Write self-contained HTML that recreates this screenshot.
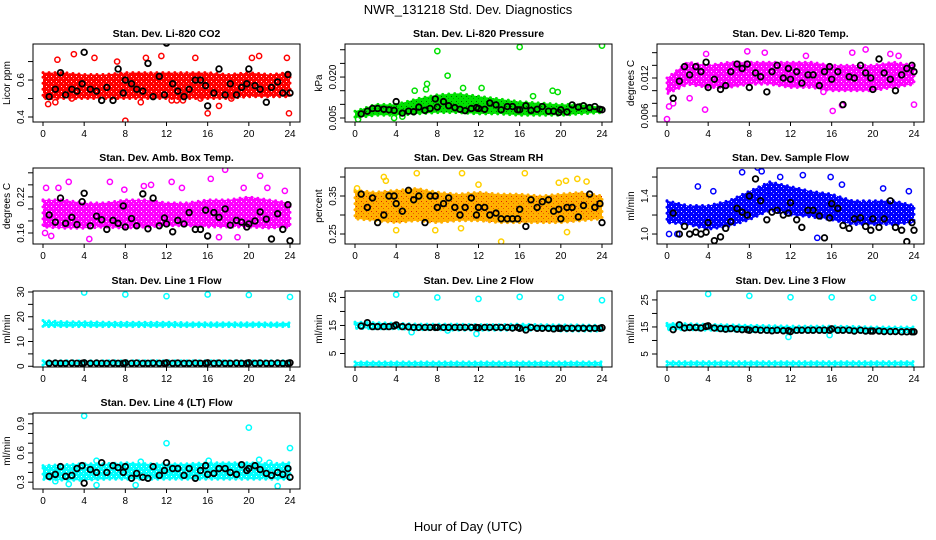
<!DOCTYPE html>
<html><head><meta charset="utf-8"><style>
html,body{margin:0;padding:0;background:#fff;}
svg{display:block;font-family:"Liberation Sans",Arial,sans-serif;}
</style></head><body>
<svg id="chart" width="936" height="540" viewBox="0 0 936 540" xmlns="http://www.w3.org/2000/svg">
<defs id="defs"></defs>
<rect x="0" y="0" width="936" height="540" fill="#fff"/>
<text x="468" y="14" text-anchor="middle" font-size="13">NWR_131218  Std. Dev. Diagnostics</text>
<text x="468" y="531" text-anchor="middle" font-size="13">Hour of Day (UTC)</text>
</svg>
<script>
// ---- data ----
const xTicks = [0,4,8,12,16,20,24];
const bandHours = [0,2,4,6,8,10,12,14,16,18,20,22,24];
const blackHours = [0.6,1.2,1.7,2.2,2.8,3.3,3.8,4,4.6,5.2,5.7,6.2,6.8,7.3,7.8,8,8.6,9.1,9.7,10.2,10.7,11.3,11.8,12,12.6,13.1,13.7,14.2,14.8,15.3,15.8,16,16.6,17.1,17.7,18.2,18.8,19.3,19.8,20,20.6,21.1,21.7,22.2,22.8,23.3,23.8,24];

const co2Lo = [0.50,0.50,0.50,0.50,0.50,0.50,0.50,0.50,0.50,0.50,0.51,0.51,0.51];
const co2Hi = [0.64,0.64,0.63,0.63,0.64,0.64,0.64,0.64,0.64,0.63,0.64,0.63,0.64];
const co2OutX = [0.5,1.2,1.4,2.8,5,7.2,8,10,11.5,12.5,13,13.6,14.8,16,17.1,20.3,21,23.7,23.9,18.3,15.3,9.5,3.0];
const co2OutY = [0.47,0.48,0.71,0.50,0.72,0.70,0.38,0.72,0.73,0.49,0.49,0.49,0.72,0.42,0.46,0.72,0.73,0.72,0.42,0.50,0.50,0.48,0.74];
const co2Black = [0.51,0.55,0.64,0.52,0.55,0.54,0.58,0.75,0.55,0.54,0.49,0.56,0.49,0.66,0.53,0.60,0.58,0.55,0.54,0.69,0.51,0.62,0.52,0.80,0.58,0.54,0.51,0.55,0.60,0.60,0.57,0.46,0.53,0.66,0.52,0.58,0.52,0.56,0.58,0.66,0.57,0.55,0.48,0.56,0.59,0.53,0.63,0.53];

const prLo = [0.005,0.006,0.006,0.0065,0.007,0.007,0.0065,0.0065,0.006,0.006,0.006,0.0065,0.007];
const prHi = [0.0075,0.0100,0.0100,0.0120,0.0135,0.0140,0.0130,0.0120,0.0110,0.0105,0.0100,0.0100,0.0090];
const prOutX = [8,16,24,9,7,10.5,19.2,19.7,0.3,3.8,12.3,5.8,6.9,17.3,4.6];
const prOutY = [0.0295,0.031,0.0315,0.0205,0.0175,0.016,0.015,0.0145,0.0045,0.005,0.016,0.015,0.0155,0.013,0.0055];
const prBlack = [0.0065,0.0075,0.0085,0.0085,0.0082,0.0080,0.0078,0.0110,0.0068,0.0075,0.0073,0.0090,0.0078,0.0085,0.0120,0.0090,0.0110,0.0095,0.0088,0.0082,0.0077,0.0085,0.0088,0.0085,0.0082,0.0105,0.0098,0.0080,0.0092,0.0092,0.0080,0.0080,0.0095,0.0078,0.0082,0.0092,0.0075,0.0075,0.0070,0.0080,0.0072,0.0098,0.0090,0.0095,0.0088,0.0092,0.0082,0.0080];

const tpLo = [0.0095,0.0110,0.0105,0.0105,0.0110,0.0110,0.0105,0.0105,0.0100,0.0100,0.0100,0.0105,0.0110];
const tpHi = [0.0120,0.0145,0.0140,0.0145,0.0145,0.0145,0.0145,0.0145,0.0140,0.0140,0.0140,0.0145,0.0140];
const tpOutX = [0,0.2,0.6,3.7,16.1,17,24,18,19.3,7.8,13.5,22.5,2.2,9.5,3.8,15.2,21.7];
const tpOutY = [0.0055,0.0075,0.0080,0.0070,0.0068,0.0077,0.0078,0.0160,0.0165,0.0162,0.0155,0.0155,0.0088,0.0160,0.0158,0.0098,0.0158];
const tpBlack = [0.0088,0.0115,0.0138,0.0125,0.0138,0.0130,0.0145,0.0105,0.0118,0.0102,0.0108,0.0130,0.0142,0.0135,0.0142,0.0105,0.0128,0.0122,0.0098,0.0130,0.0140,0.0120,0.0135,0.0118,0.0130,0.0112,0.0125,0.0125,0.0108,0.0130,0.0138,0.0118,0.0130,0.0078,0.0122,0.0120,0.0140,0.0128,0.0120,0.0102,0.0150,0.0128,0.0118,0.0100,0.0125,0.0135,0.0140,0.0130];

const abLo = [0.170,0.168,0.168,0.170,0.168,0.170,0.172,0.172,0.170,0.170,0.170,0.168,0.170];
const abHi = [0.215,0.215,0.210,0.210,0.215,0.215,0.210,0.210,0.215,0.215,0.220,0.215,0.210];
const abOutX = [0.2,0.8,1.5,2.5,4.5,6.5,10.5,12.5,13.5,16.3,17.7,21.1,21.8,17.1,19.5,23.5,0.3,9.8,18.9,7.9];
const abOutY = [0.160,0.155,0.235,0.245,0.150,0.245,0.240,0.245,0.235,0.250,0.265,0.255,0.235,0.153,0.235,0.230,0.235,0.238,0.153,0.232];
const abBlack = [0.190,0.178,0.218,0.176,0.186,0.174,0.212,0.226,0.172,0.188,0.182,0.166,0.181,0.176,0.205,0.170,0.184,0.172,0.225,0.167,0.218,0.172,0.185,0.175,0.162,0.181,0.175,0.194,0.166,0.166,0.198,0.155,0.194,0.186,0.200,0.173,0.181,0.178,0.170,0.175,0.180,0.195,0.183,0.150,0.192,0.166,0.207,0.147];

const rhLo = [0.290,0.285,0.280,0.285,0.280,0.285,0.285,0.280,0.280,0.280,0.280,0.285,0.290];
const rhHi = [0.365,0.360,0.365,0.370,0.360,0.355,0.360,0.355,0.355,0.350,0.355,0.360,0.350];
const rhOutX = [0.2,2.8,3,6,10.4,16.5,20.5,21.6,14.2,12,10.3,20.6,4,7.8,2.2,19.8,22.5];
const rhOutY = [0.370,0.400,0.390,0.410,0.410,0.410,0.390,0.395,0.230,0.380,0.265,0.255,0.260,0.260,0.280,0.385,0.388];
const rhBlack = [0.355,0.320,0.345,0.280,0.300,0.350,0.350,0.330,0.310,0.365,0.340,0.350,0.280,0.350,0.350,0.320,0.330,0.345,0.320,0.300,0.320,0.345,0.300,0.320,0.320,0.300,0.305,0.290,0.290,0.290,0.290,0.315,0.270,0.340,0.320,0.335,0.340,0.310,0.315,0.290,0.320,0.320,0.295,0.325,0.355,0.320,0.330,0.280];

const sfLo = [1.12,1.10,1.05,1.08,1.15,1.25,1.20,1.18,1.15,1.10,1.10,1.10,1.12];
const sfHi = [1.35,1.30,1.30,1.35,1.45,1.55,1.50,1.45,1.42,1.35,1.35,1.35,1.30];
const sfOutX = [3,4.5,7.3,8.8,9.8,11,15.9,17,14.6,1,0.2,23.5,21,0.5,9.2,13.2];
const sfOutY = [1.50,1.45,1.65,1.70,1.45,1.60,1.60,1.52,0.96,1.00,1.00,1.45,1.48,1.20,1.66,1.62];
const sfBlack = [1.22,1.00,1.08,1.00,1.02,1.00,1.02,1.12,0.93,0.97,1.06,1.13,1.27,1.23,1.20,1.40,1.58,1.35,1.15,1.23,1.25,1.20,1.22,1.33,1.15,1.07,1.25,1.25,1.19,0.96,1.17,1.32,1.27,1.09,1.06,1.16,1.17,1.08,1.04,1.16,1.07,1.16,1.35,1.07,1.04,0.92,1.12,1.04];

const l1Lo = [16,16,16,16,16,16,16,16,16,16,16,16,16];
const l1Hi = [18.5,18,18,17.8,17.8,17.8,17.8,17.6,17.6,17.6,17.6,17.5,17.5];
const l1Lo2 = [0.5,0.6,0.6,0.6,0.6,0.6,0.6,0.6,0.6,0.6,0.6,0.6,0.6];
const l1Hi2 = [2.2,2.2,2.2,2.2,2.2,2.2,2.2,2.2,2.2,2.2,2.2,2.2,2.2];
const l1OutX = [4,8,12,16,20,24];
const l1OutY = [29.8,29,28.3,29,28.8,28];
const l1Black = [1.2,1.3,1.2,1.2,1.3,1.2,1.2,1.4,1.2,1.3,1.2,1.2,1.3,1.2,1.2,1.4,1.2,1.3,1.2,1.2,1.3,1.2,1.2,1.4,1.2,1.3,1.2,1.2,1.3,1.2,1.2,1.4,1.2,1.3,1.2,1.2,1.3,1.2,1.2,1.4,1.2,1.3,1.2,1.2,1.3,1.2,1.2,1.4];

const l2Lo = [14,13.8,13.8,13.5,13.5,13.3,13.3,13.3,13.3,13.3,13,13,13];
const l2Hi = [16.2,16,15.8,15.5,15.5,15.5,15.3,15.3,15.5,15.3,15.2,15.2,15];
const l2Lo2 = [0.6,0.6,0.6,0.6,0.6,0.6,0.6,0.6,0.6,0.6,0.6,0.6,0.6];
const l2Hi2 = [2,2,2,2,2,2,2,2,2,2,2,2,2];
const l2OutX = [4,8,12,16,20,24,11.8,9,5.5];
const l2OutY = [26,25,24.5,25.2,25,24,12,13.2,12.6];
const l2Black = [14.8,16.0,14.6,14.6,14.6,14.6,14.8,15.2,14.6,14.5,14.3,14.3,14.3,14.3,14.3,14.3,14.3,14.3,14.3,14.3,14.3,14.3,14.3,14.2,14.3,14.3,14.3,14.3,14.3,14.1,14.3,14.0,13.4,14.3,14.0,14.0,14.0,13.8,14.0,14.0,14.0,14.0,14.0,14.0,14.0,14.0,14.0,14.2];

const l3Lo = [14,14,13.8,13.5,13.3,13.2,13,13,13,13,12.8,12.8,12.8];
const l3Hi = [16.3,16.2,16,15.8,15.6,15.5,15.3,15.3,15.3,15.2,15,15,15];
const l3Lo2 = [0.8,0.8,0.8,0.8,0.8,0.8,0.8,0.8,0.8,0.8,0.8,0.8,0.8];
const l3Hi2 = [2.2,2.2,2.2,2.2,2.2,2.2,2.2,2.2,2.2,2.2,2.2,2.2,2.2];
const l3OutX = [4,8,12,16,20,24,11.8,15.8];
const l3OutY = [27.2,26.5,26,26,25.8,25.8,11.3,12];
const l3Black = [14.0,15.8,14.6,14.8,14.8,14.6,15.2,15.4,14.6,14.4,14.2,14.4,14.2,14.0,14.0,13.8,14.0,13.8,13.8,13.6,13.8,13.6,13.6,13.3,13.8,13.8,13.8,13.8,13.8,13.8,13.8,14.3,13.8,13.8,13.8,13.5,13.8,13.5,13.5,13.5,13.5,13.3,13.3,13.3,13.2,13.2,13.2,13.2];

const l4Lo = [0.33,0.32,0.32,0.33,0.33,0.33,0.33,0.33,0.33,0.33,0.33,0.33,0.33];
const l4Hi = [0.47,0.48,0.49,0.49,0.50,0.49,0.49,0.49,0.50,0.50,0.50,0.49,0.50];
const l4OutX = [4,20,12,24,5.2,21,22,22.8,5.2,2.5,9,9.5,1.2,16.1];
const l4OutY = [0.98,0.86,0.70,0.65,0.52,0.53,0.50,0.26,0.27,0.28,0.27,0.51,0.31,0.52];
const l4Black = [0.36,0.38,0.46,0.36,0.37,0.44,0.47,0.29,0.43,0.40,0.50,0.40,0.47,0.45,0.40,0.46,0.34,0.39,0.35,0.34,0.46,0.37,0.42,0.50,0.44,0.44,0.37,0.44,0.34,0.42,0.47,0.38,0.39,0.44,0.44,0.40,0.38,0.48,0.42,0.44,0.47,0.43,0.39,0.37,0.40,0.38,0.44,0.35];

// ---- layout / rendering ----
const NS = 'http://www.w3.org/2000/svg';
const svg = document.getElementById('chart');
const defs = document.getElementById('defs');
const rowTop = [44,168,291,413], rowBot = [122,244,367,489];
function mk(tag, attrs, parent){
  const e = document.createElementNS(NS, tag);
  for (const k in attrs) e.setAttribute(k, attrs[k]);
  (parent||svg).appendChild(e);
  return e;
}
const panels = [
 {key:'co2',title:'Stan. Dev. Li-820 CO2',ylab:'Licor ppm',c:0,r:0,ylim:[0.373,0.795],ticks:[0.4,0.5,0.6,0.7],labels:['0.4','0.6'],col:'#ff0000',speck:'#ffffff',bands:[[co2Lo,co2Hi]],ox:co2OutX,oy:co2OutY,black:co2Black},
 {key:'pressure',title:'Stan. Dev. Li-820 Pressure',ylab:'kPa',c:1,r:0,ylim:[0.00354,0.0321],ticks:[0.005,0.010,0.015,0.020,0.025,0.030],labels:['0.005','0.020'],col:'#00e000',speck:'#006000',bands:[[prLo,prHi]],ox:prOutX,oy:prOutY,black:prBlack},
 {key:'temp',title:'Stan. Dev. Li-820 Temp.',ylab:'degrees C',c:2,r:0,ylim:[0.00505,0.01737],ticks:[0.006,0.008,0.010,0.012,0.014,0.016],labels:['0.006','0.012'],col:'#ff00ff',speck:'#ffffff',bands:[[tpLo,tpHi]],ox:tpOutX,oy:tpOutY,black:tpBlack},
 {key:'amb',title:'Stan. Dev. Amb. Box Temp.',ylab:'degrees C',c:0,r:1,ylim:[0.1417,0.268],ticks:[0.16,0.18,0.20,0.22,0.24,0.26],labels:['0.16','0.22'],col:'#ff00ff',speck:'#ffffff',bands:[[abLo,abHi]],ox:abOutX,oy:abOutY,black:abBlack},
 {key:'rh',title:'Stan. Dev. Gas Stream RH',ylab:'percent',c:1,r:1,ylim:[0.2237,0.4237],ticks:[0.25,0.30,0.35,0.40],labels:['0.25','0.35'],col:'#ffb000',speck:'#e02000',ocol:'#ffd000',bands:[[rhLo,rhHi]],ox:rhOutX,oy:rhOutY,black:rhBlack},
 {key:'sampleflow',title:'Stan. Dev. Sample Flow',ylab:'ml/min',c:2,r:1,ylim:[0.895,1.695],ticks:[1.0,1.2,1.4,1.6],labels:['1.0','1.4'],col:'#0000ff',speck:'#ffffff',bands:[[sfLo,sfHi]],ox:sfOutX,oy:sfOutY,black:sfBlack},
 {key:'line1',title:'Stan. Dev. Line 1 Flow',ylab:'ml/min',c:0,r:2,ylim:[-0.3,30.4],ticks:[0,5,10,15,20,25,30],labels:['0','10','20','30'],col:'#00ffff',speck:'#ffffff',bands:[[l1Lo,l1Hi],[l1Lo2,l1Hi2]],ox:l1OutX,oy:l1OutY,black:l1Black},
 {key:'line2',title:'Stan. Dev. Line 2 Flow',ylab:'ml/min',c:1,r:2,ylim:[0.18,27.3],ticks:[5,10,15,20,25],labels:['5','15','25'],col:'#00ffff',speck:'#ffffff',bands:[[l2Lo,l2Hi],[l2Lo2,l2Hi2]],ox:l2OutX,oy:l2OutY,black:l2Black},
 {key:'line3',title:'Stan. Dev. Line 3 Flow',ylab:'ml/min',c:2,r:2,ylim:[0.19,28.3],ticks:[5,10,15,20,25],labels:['5','15','25'],col:'#00ffff',speck:'#ffffff',bands:[[l3Lo,l3Hi],[l3Lo2,l3Hi2]],ox:l3OutX,oy:l3OutY,black:l3Black},
 {key:'line4',title:'Stan. Dev. Line 4 (LT) Flow',ylab:'ml/min',c:0,r:3,ylim:[0.23,1.01],ticks:[0.3,0.4,0.5,0.6,0.7,0.8,0.9,1.0],labels:['0.3','0.6','0.9'],col:'#00ffff',speck:'#ffffff',bands:[[l4Lo,l4Hi]],ox:l4OutX,oy:l4OutY,black:l4Black}
];

panels.forEach(p => {
  const x0 = 43 + 312*p.c, x24 = x0 + 247;
  const bl = x0 - 10, br = x24 + 10, bt = rowTop[p.r], bb = rowBot[p.r];
  const sx = h => x0 + (h/24)*(x24-x0);
  const sy = v => bb - (v - p.ylim[0])/(p.ylim[1]-p.ylim[0])*(bb-bt);
  // speckle pattern
  const patId = 'pat-' + p.key;
  const pat = mk('pattern', {id: patId, width: 5, height: 5, patternUnits: 'userSpaceOnUse'}, defs);
  mk('rect', {x: 0, y: 0, width: 5, height: 5, fill: p.col}, pat);
  mk('rect', {x: 1, y: 1, width: 1, height: 1, fill: p.speck}, pat);
  mk('rect', {x: 3, y: 3, width: 1, height: 1, fill: p.speck, opacity: 0.6}, pat);
  const g = mk('g', {});
  
  
  const clipId = 'clip-' + p.key;
  const cp = mk('clipPath', {id: clipId}, g);
  mk('rect', {x: bl, y: bt, width: br-bl, height: bb-bt}, cp);
  const data = mk('g', {'clip-path': 'url(#' + clipId + ')'}, g);
  
  
  p.bands.forEach((b, bi) => {
    let d = '';
    bandHours.forEach((h, i) => { d += (i ? 'L' : 'M') + sx(h).toFixed(1) + ',' + sy(b[1][i]).toFixed(1); });
    for (let i = bandHours.length - 1; i >= 0; i--) d += 'L' + sx(bandHours[i]).toFixed(1) + ',' + sy(b[0][i]).toFixed(1);
    const band = mk('path', {d: d + 'Z', fill: 'url(#' + patId + ')', stroke: p.col, 'stroke-width': 3, 'stroke-dasharray': '0 6', 'stroke-linecap': 'round'}, data);
    
    
  });
  p.ox.forEach((h, i) => {
    const c = mk('circle', {cx: sx(h), cy: sy(p.oy[i]), r: 2.6, fill: 'none', stroke: p.ocol || p.col, 'stroke-width': 1.5}, data);
    
    
  });
  blackHours.forEach((h, i) => {
    const c = mk('circle', {cx: sx(h), cy: sy(p.black[i]), r: 2.8, fill: 'none', stroke: '#000', 'stroke-width': 1.8}, data);
    
    
  });
  const box = mk('rect', {x: bl, y: bt, width: br-bl, height: bb-bt, fill: 'none', stroke: '#000', 'stroke-width': 1}, g);
  
  
  xTicks.forEach(h => {
    const t = mk('line', {x1: sx(h), x2: sx(h), y1: bb, y2: bb + 4, stroke: '#000'}, g);
    
    
    const l = mk('text', {x: sx(h), y: bb + 15, 'text-anchor': 'middle', 'font-size': 10}, g);
    l.textContent = String(h);
    
    
  });
  p.ticks.forEach(v => {
    const t = mk('line', {x1: bl - 5, x2: bl, y1: sy(v), y2: sy(v), stroke: '#000'}, g);
    
    
  });
  p.labels.forEach(s => {
    const v = parseFloat(s), yy = sy(v), xx = bl - 9;
    const l = mk('text', {x: xx, y: yy, 'text-anchor': 'middle', 'font-size': 10, transform: 'rotate(-90 ' + xx + ' ' + yy + ')'}, g);
    l.textContent = s;
    
    
  });
  const yx = bl - 23, yy = (bt + bb) / 2;
  const yt = mk('text', {x: yx, y: yy, 'text-anchor': 'middle', 'font-size': 10, transform: 'rotate(-90 ' + yx + ' ' + yy + ')'}, g);
  yt.textContent = p.ylab;
  
  
  const tt = mk('text', {x: (bl + br) / 2, y: bt - 7, 'text-anchor': 'middle', 'font-size': 10.5, 'font-weight': 'bold'}, g);
  tt.textContent = p.title;
  
  
});
</script>
</body></html>
